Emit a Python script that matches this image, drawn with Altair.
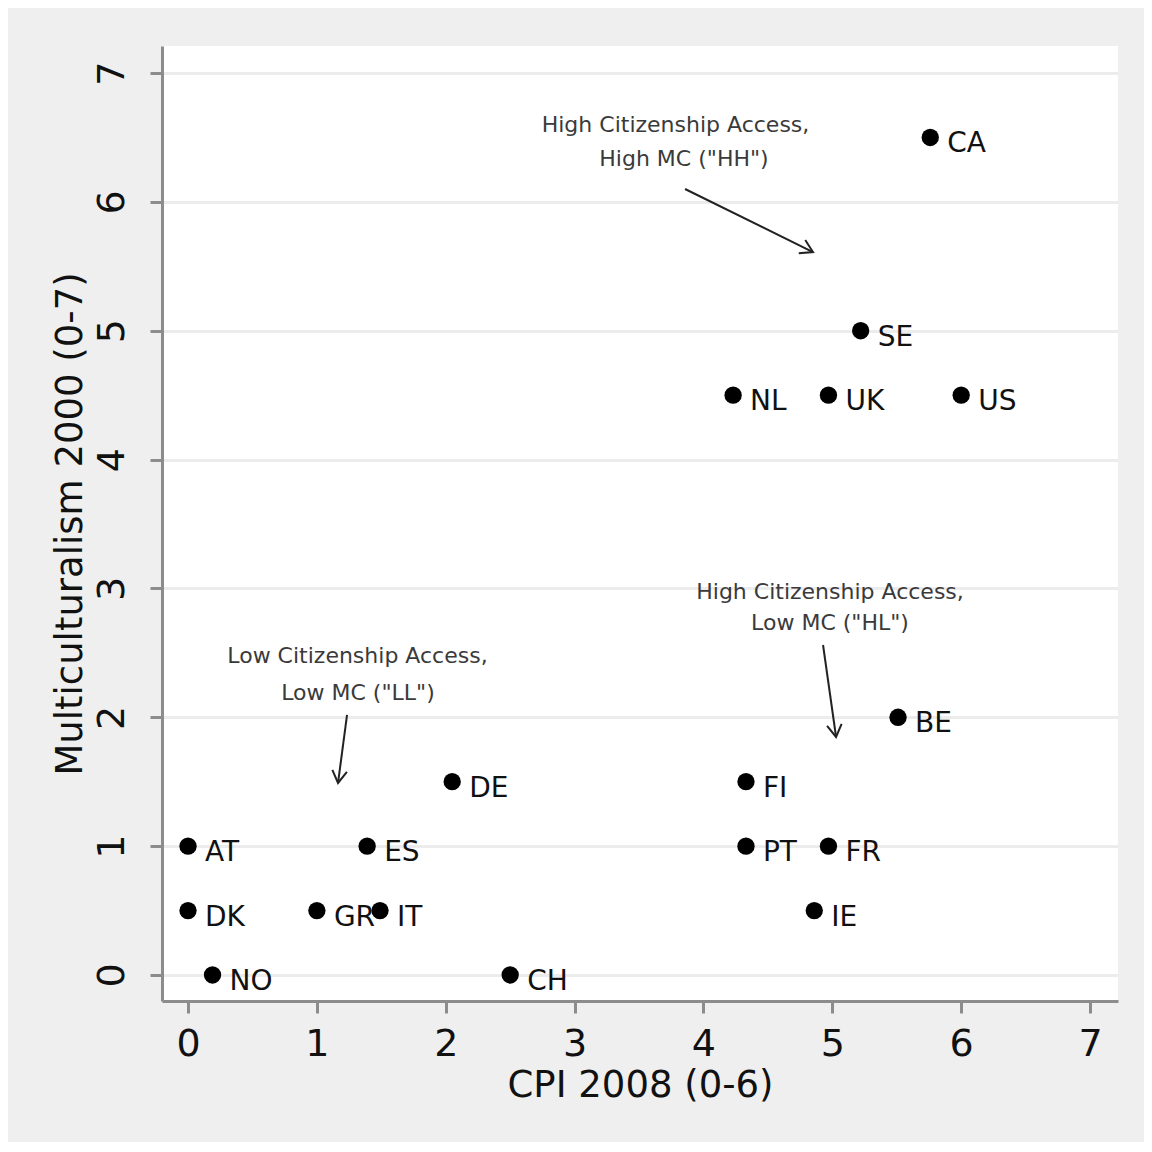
import altair as alt
import pandas as pd
import numpy as np

# ---- data ----
countries = ["CA", "SE", "NL", "UK", "US", "BE", "FI", "DE", "AT", "ES",
             "PT", "FR", "DK", "GR", "IT", "IE", "NO", "CH"]
cpi_2008 = [5.76, 5.22, 4.23, 4.97, 6.0, 5.51, 4.33, 2.05, 0.0, 1.39,
            4.33, 4.97, 0.0, 1.0, 1.49, 4.86, 0.19, 2.5]
mc_2000 = [6.5, 5.0, 4.5, 4.5, 4.5, 2.0, 1.5, 1.5, 1.0, 1.0,
           1.0, 1.0, 0.5, 0.5, 0.5, 0.5, 0.0, 0.0]

note_text = ["High Citizenship Access,", "High MC (\"HH\")",
             "High Citizenship Access,", "Low MC (\"HL\")",
             "Low Citizenship Access,", "Low MC (\"LL\")"]
note_x = [3.783, 3.849, 4.982, 4.982, 1.315, 1.319]
note_y = [6.596, 6.333, 2.972, 2.732, 2.476, 2.188]

arrow_x1 = [3.857, 4.928, 1.234]
arrow_y1 = [6.100, 2.561, 2.018]
arrow_x2 = [4.850, 5.029, 1.164]
arrow_y2 = [5.611, 1.847, 1.490]

tick_values = [0, 1, 2, 3, 4, 5, 6, 7]
x_domain = [-0.202, 7.217]
y_domain = [-0.202, 7.21]

FONT = "DejaVu Sans"

pts = pd.DataFrame({"country": countries, "cpi": cpi_2008, "mc": mc_2000})
notes = pd.DataFrame({"text": note_text, "x": note_x, "y": note_y})
arrows = pd.DataFrame({"x1": arrow_x1, "y1": arrow_y1, "x2": arrow_x2, "y2": arrow_y2})
# direction of each arrow head (both scales have the same px per unit)
arrows["angle"] = np.mod(np.degrees(np.arctan2(-(arrows["y2"] - arrows["y1"]),
                                               arrows["x2"] - arrows["x1"])), 360)

xs = alt.Scale(domain=x_domain, nice=False, zero=False)
ys = alt.Scale(domain=y_domain, nice=False, zero=False)

x_axis = alt.Axis(values=tick_values, format="d", title="CPI 2008 (0-6)", grid=False,
                  labelFontSize=38, titleFontSize=37, labelPadding=12,
                  titleY=84, titleBaseline="middle")
y_axis = alt.Axis(values=tick_values, format="d", title="Multiculturalism 2000 (0-7)", grid=True,
                  labelFontSize=38, titleFontSize=37, labelAngle=270, labelPadding=19,
                  titleX=-92, titleBaseline="middle",
                  gridColor="#ececec", gridWidth=3)

points = alt.Chart(pts).mark_circle(size=300, color="black", opacity=1).encode(
    x=alt.X("cpi:Q", scale=xs, axis=x_axis),
    y=alt.Y("mc:Q", scale=ys, axis=y_axis),
)

labels = alt.Chart(pts).mark_text(
    align="left", baseline="alphabetic", dx=17, dy=15,
    fontSize=28, font=FONT, color="#111111"
).encode(
    x=alt.X("cpi:Q", scale=xs),
    y=alt.Y("mc:Q", scale=ys),
    text="country:N",
)

note_marks = alt.Chart(notes).mark_text(
    align="center", baseline="middle", fontSize=22, font=FONT, color="#3a3a3a"
).encode(
    x=alt.X("x:Q", scale=xs),
    y=alt.Y("y:Q", scale=ys),
    text="text:N",
)

arrow_lines = alt.Chart(arrows).mark_rule(color="#222222", strokeWidth=2).encode(
    x=alt.X("x1:Q", scale=xs),
    y=alt.Y("y1:Q", scale=ys),
    x2="x2:Q",
    y2="y2:Q",
)

arrow_heads = alt.Chart(arrows).mark_point(
    shape="M -1 -0.6 L 0 0 L -1 0.6", filled=False, size=600,
    color="#222222", strokeWidth=2, opacity=1
).encode(
    x=alt.X("x2:Q", scale=xs),
    y=alt.Y("y2:Q", scale=ys),
    angle=alt.Angle("angle:Q", scale=None),
)

chart = alt.layer(points, labels, note_marks, arrow_lines, arrow_heads).properties(
    width=956, height=955,
    autosize=alt.AutoSizeParams(type="none"),
    padding={"left": 154, "top": 38, "right": 26, "bottom": 141},
    background="#efefef",
).configure_view(
    fill="white", stroke=None
).configure_axis(
    labelFont=FONT, titleFont=FONT, labelColor="#111111", titleColor="#111111",
    titleFontWeight="normal",
    domainColor="#8c8c8c", domainWidth=3,
    tickColor="#8c8c8c", tickWidth=3, tickSize=12,
)

chart.save("out.html", embed_options={"renderer": "svg", "actions": False})
